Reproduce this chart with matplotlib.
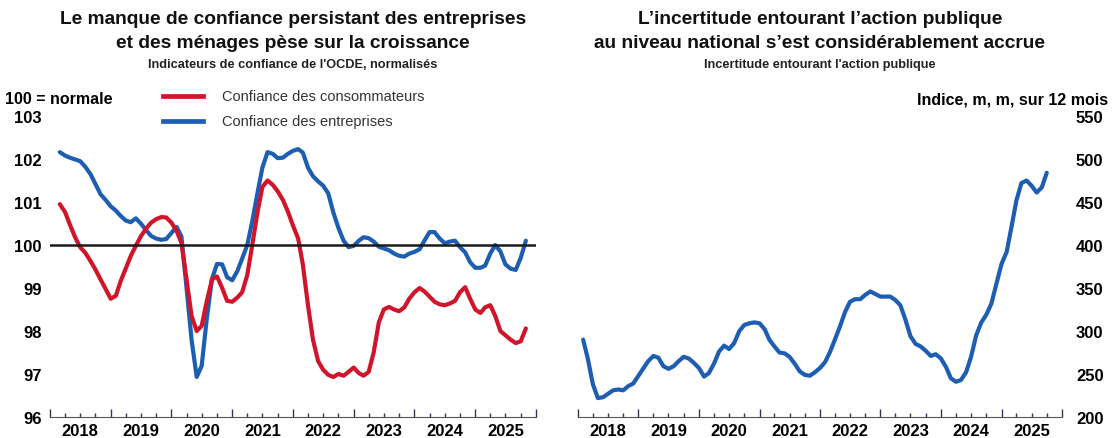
import pandas as pd
import matplotlib
matplotlib.use("Agg")
import matplotlib.pyplot as plt
import matplotlib.dates as mdates
from matplotlib.ticker import FuncFormatter, MultipleLocator

plt.rcParams["font.family"] = ["Liberation Sans", "DejaVu Sans"]

# Données (mensuelles)
conso_debut = "2018-03-01"
conso = [100.95, 100.77, 100.47, 100.18, 99.95, 99.82, 99.63, 99.43, 99.2, 98.98,
         98.75, 98.82, 99.15, 99.45, 99.74, 99.98, 100.2, 100.38, 100.52, 100.6,
         100.65, 100.64, 100.52, 100.33, 100.05, 99.2, 98.35, 98.0, 98.12, 98.7,
         99.2, 99.27, 99.0, 98.7, 98.68, 98.78, 98.9, 99.3, 100.0, 100.75,
         101.35, 101.5, 101.4, 101.25, 101.05, 100.78, 100.45, 100.15, 99.55, 98.6,
         97.8, 97.3, 97.1, 96.98, 96.93, 97.0, 96.96, 97.05, 97.15, 97.02,
         96.96, 97.05, 97.5, 98.2, 98.5, 98.56, 98.5, 98.46, 98.55, 98.75,
         98.9, 99.0, 98.92, 98.8, 98.68, 98.62, 98.6, 98.64, 98.7, 98.9,
         99.02, 98.75, 98.5, 98.42, 98.55, 98.6, 98.35, 98.0, 97.9, 97.8,
         97.72, 97.76, 98.06]
entreprises = [102.16, 102.08, 102.03, 101.99, 101.95, 101.82, 101.65, 101.42, 101.18, 101.05,
               100.9, 100.8, 100.68, 100.57, 100.53, 100.62, 100.5, 100.35, 100.21, 100.15,
               100.12, 100.14, 100.28, 100.42, 100.2, 99.0, 97.8, 96.93, 97.19, 98.3,
               99.21, 99.56, 99.55, 99.25, 99.18, 99.4, 99.68, 100.0, 100.55, 101.2,
               101.8, 102.16, 102.12, 102.02, 102.03, 102.12, 102.19, 102.23, 102.15, 101.8,
               101.6, 101.48, 101.38, 101.2, 100.75, 100.4, 100.1, 99.95, 99.98, 100.1,
               100.18, 100.16, 100.08, 99.96, 99.92, 99.88, 99.8, 99.75, 99.73, 99.8,
               99.84, 99.9, 100.1, 100.3, 100.3, 100.15, 100.04, 100.08, 100.1, 99.95,
               99.83, 99.6, 99.47, 99.47, 99.52, 99.8, 100.0, 99.85, 99.55, 99.45,
               99.42, 99.7, 100.1]

incert_debut = "2018-02-01"
incertitude = [290, 268, 238, 222, 223, 227, 231, 232, 231, 236,
               239, 248, 257, 265, 271, 269, 259, 256, 259, 265,
               270, 268, 263, 257, 247, 251, 262, 276, 283, 279,
               286, 300, 307, 309, 310, 309, 302, 290, 282, 275,
               274, 270, 262, 253, 249, 248, 252, 257, 264, 275,
               290, 305, 322, 334, 337, 337, 342, 346, 343, 340,
               340, 340, 336, 330, 313, 294, 285, 282, 277, 271,
               273, 268, 258, 245, 241, 243, 252, 270, 295, 310,
               319, 332, 355, 378, 392, 420, 452, 472, 475, 469,
               461, 467, 484]

ROUGE = "#d2142b"
BLEU = "#1d5eb3"
W, H = 1113, 439

dates_c = pd.date_range(conso_debut, periods=len(conso), freq="MS")
dates_i = pd.date_range(incert_debut, periods=len(incertitude), freq="MS")

fig = plt.figure(figsize=(W / 100, H / 100), dpi=100)


def px(x, y):
    return x / W, 1 - y / H


def style_axe(ax, cote):
    ax.set_xlim(pd.Timestamp("2018-01-01"), pd.Timestamp("2026-01-01"))
    for s in ["top", "left", "right"]:
        ax.spines[s].set_visible(False)
    ax.spines["bottom"].set_color("#555555")
    ax.spines["bottom"].set_linewidth(0.8)
    ax.xaxis.set_major_locator(mdates.YearLocator())
    ax.xaxis.set_major_formatter(FuncFormatter(lambda v, p: ""))
    ax.xaxis.set_minor_locator(mdates.MonthLocator([4, 7, 10]))
    ax.xaxis.set_minor_formatter(FuncFormatter(
        lambda v, p: str(mdates.num2date(v).year) if mdates.num2date(v).month == 7 else ""))
    ax.tick_params(axis="x", which="major", direction="in", length=6, width=1, color="#333355")
    ax.tick_params(axis="x", which="minor", direction="in", length=3, width=1, color="#333355",
                   labelsize=12, pad=4)
    for lab in ax.get_xticklabels(minor=True):
        lab.set_fontweight("bold")
    ax.tick_params(axis="y", length=0, labelsize=12)
    if cote == "right":
        ax.yaxis.tick_right()
        ax.tick_params(axis="y", pad=10)
    else:
        ax.tick_params(axis="y", pad=6)
    for lab in ax.get_yticklabels():
        lab.set_fontweight("bold")


# Panneau gauche
x0, y0 = px(50, 418)
x1, y1 = px(536, 117)
ax1 = fig.add_axes([x0, y0, x1 - x0, y1 - y0])
ax1.plot(dates_c, conso, color=ROUGE, lw=3.0, solid_capstyle="round", zorder=3)
ax1.plot(dates_c, entreprises, color=BLEU, lw=3.0, solid_capstyle="round", zorder=2)
ax1.axhline(100, color="#1a1a1a", lw=1.8, zorder=4)
ax1.set_ylim(96, 103)
ax1.yaxis.set_major_locator(MultipleLocator(1))
style_axe(ax1, "left")

# Panneau droit
x0, y0 = px(578, 418)
x1, y1 = px(1062, 117)
ax2 = fig.add_axes([x0, y0, x1 - x0, y1 - y0])
ax2.plot(dates_i, incertitude, color=BLEU, lw=3.0, solid_capstyle="round")
ax2.set_ylim(200, 550)
ax2.yaxis.set_major_locator(MultipleLocator(50))
style_axe(ax2, "right")

# Titres
for xc, l1, l2, sous in [
    (293, "Le manque de confiance persistant des entreprises",
     "et des ménages pèse sur la croissance", "Indicateurs de confiance de l'OCDE, normalisés"),
    (820, "L’incertitude entourant l’action publique",
     "au niveau national s’est considérablement accrue", "Incertitude entourant l'action publique"),
]:
    fig.text(*px(xc, 20), l1, ha="center", va="center", fontsize=13.8, fontweight="bold", color="#111111")
    fig.text(*px(xc, 43), l2, ha="center", va="center", fontsize=13.8, fontweight="bold", color="#111111")
    fig.text(*px(xc, 65), sous, ha="center", va="center", fontsize=9.2, fontweight="bold", color="#222222")

fig.text(*px(5, 100), "100 = normale", ha="left", va="center", fontsize=11.5, fontweight="bold")
fig.text(*px(1108, 100), "Indice, m, m, sur 12 mois", ha="right", va="center", fontsize=11.5, fontweight="bold")

# Légende
for yy, col, lab in [(97, ROUGE, "Confiance des consommateurs"), (122, BLEU, "Confiance des entreprises")]:
    xa, ya = px(163, yy)
    xb, _ = px(203, yy)
    fig.add_artist(plt.Line2D([xa, xb], [ya, ya], color=col, lw=3.4, transform=fig.transFigure))
    fig.text(*px(222, yy), lab, ha="left", va="center", fontsize=10.5, color="#333333")

fig.savefig("out.png", dpi=100)
